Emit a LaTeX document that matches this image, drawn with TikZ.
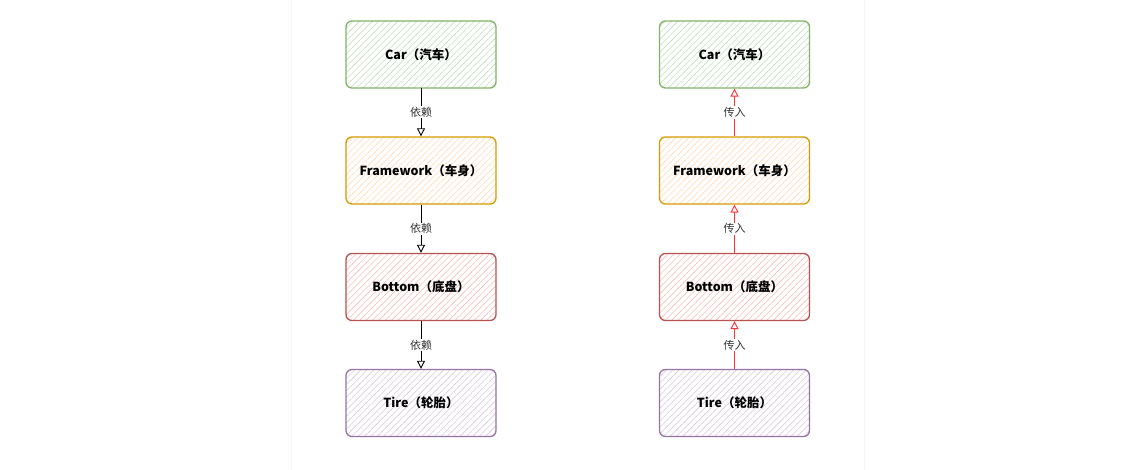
\documentclass[tikz,border=0pt]{standalone}
\usepackage{fontspec}
\setmainfont{Noto Sans CJK SC}
\usepackage{tikz}
\usetikzlibrary{arrows.meta,patterns.meta,positioning}
\definecolor{carline}{HTML}{82B366}
\definecolor{carfill}{HTML}{C2DFBF}
\definecolor{frameline}{HTML}{D79B00}
\definecolor{framefill}{HTML}{FFDAB5}
\definecolor{bottomline}{HTML}{B85450}
\definecolor{bottomfill}{HTML}{F4BDBA}
\definecolor{tireline}{HTML}{9673A6}
\definecolor{tirefill}{HTML}{D9CAE1}
\definecolor{injectred}{HTML}{FF3333}
\tikzset{
  box/.style={draw=#1line,line width=1.3pt,rounded corners=6pt,
    minimum width=150pt,minimum height=67pt,inner sep=0pt,
    pattern={Lines[angle=45,distance=4.5pt,line width=0.6pt]},pattern color=#1fill,
    font=\fontsize{12.5}{14}\selectfont\bfseries},
  dep/.style={line width=0.9pt,-{Triangle[open,length=8pt,width=8pt]}},
  inject/.style={draw=injectred,line width=0.9pt,-{Triangle[open,length=8pt,width=8pt]}},
  lbl/.style={fill=white,inner sep=1pt,text=black!80,font=\fontsize{11}{12}\selectfont}
}
\begin{document}
\begin{tikzpicture}[x=1pt,y=1pt]
  \useasboundingbox[fill=white] (0,0) rectangle (1127,470);
  \draw[black!4] (291,0) -- (291,470);
  \draw[black!4] (864,0) -- (864,470);
  \node[box=car](car1)at(421,415.5){Car（汽车）};
  \node[box=frame](frame1)at(421,299.5){Framework（车身）};
  \node[box=bottom](bottom1)at(421,183){Bottom（底盘）};
  \node[box=tire](tire1)at(421,67){Tire（轮胎）};
  \draw[dep](car1)--node[lbl]{依赖}(frame1);
  \draw[dep](frame1)--node[lbl]{依赖}(bottom1);
  \draw[dep](bottom1)--node[lbl]{依赖}(tire1);
  \node[box=car](car2)at(734.5,415.5){Car（汽车）};
  \node[box=frame](frame2)at(734.5,299.5){Framework（车身）};
  \node[box=bottom](bottom2)at(734.5,183){Bottom（底盘）};
  \node[box=tire](tire2)at(734.5,67){Tire（轮胎）};
  \draw[inject](frame2)--node[lbl]{传入}(car2);
  \draw[inject](bottom2)--node[lbl]{传入}(frame2);
  \draw[inject](tire2)--node[lbl]{传入}(bottom2);
\end{tikzpicture}
\end{document}
